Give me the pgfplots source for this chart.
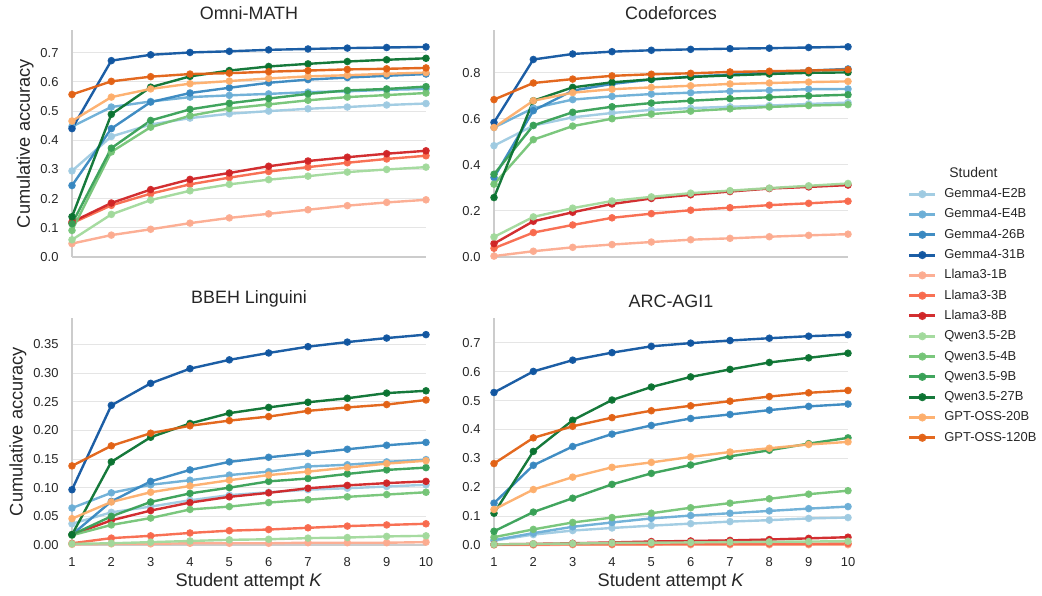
\documentclass[border=0pt]{standalone}
\usepackage{pgfplots}
\usepackage{pgfplotstable}
\pgfplotsset{compat=1.18}
\usepackage{fontspec}
\setmainfont{Liberation Sans}

\definecolor{txt}{RGB}{38,38,38}
\definecolor{spine}{RGB}{204,204,204}
\definecolor{cE2}{RGB}{158,202,225}
\definecolor{cE4}{RGB}{107,174,214}
\definecolor{c26}{RGB}{55,135,192}
\definecolor{c31}{RGB}{16,85,160}
\definecolor{cL1}{RGB}{252,171,143}
\definecolor{cL3}{RGB}{248,105,76}
\definecolor{cL8}{RGB}{208,36,38}
\definecolor{cQ2}{RGB}{161,217,155}
\definecolor{cQ4}{RGB}{116,196,118}
\definecolor{cQ9}{RGB}{55,160,85}
\definecolor{cQ27}{RGB}{10,114,48}
\definecolor{cO20}{RGB}{253,174,107}
\definecolor{cO120}{RGB}{226,97,20}

% columns: K e2 e4 g26 g31 l1 l3 l8 q2 q4 q9 q27 o20 o120
\pgfplotstableread{
K e2 e4 g26 g31 l1 l3 l8 q2 q4 q9 q27 o20 o120
1 0.295 0.447 0.245 0.440 0.046 0.116 0.120 0.059 0.091 0.114 0.138 0.466 0.557
2 0.413 0.514 0.440 0.673 0.075 0.177 0.185 0.146 0.360 0.373 0.489 0.548 0.602
3 0.454 0.533 0.531 0.693 0.095 0.217 0.231 0.195 0.445 0.468 0.582 0.576 0.618
4 0.476 0.548 0.562 0.701 0.116 0.249 0.266 0.227 0.484 0.506 0.619 0.594 0.627
5 0.491 0.554 0.580 0.705 0.134 0.272 0.288 0.249 0.509 0.527 0.639 0.603 0.630
6 0.500 0.559 0.597 0.710 0.148 0.293 0.311 0.265 0.523 0.543 0.653 0.612 0.635
7 0.508 0.565 0.608 0.713 0.162 0.308 0.329 0.277 0.537 0.559 0.662 0.619 0.639
8 0.514 0.568 0.615 0.716 0.176 0.323 0.342 0.291 0.548 0.571 0.670 0.623 0.643
9 0.521 0.573 0.621 0.718 0.187 0.336 0.354 0.300 0.555 0.576 0.676 0.628 0.645
10 0.526 0.576 0.627 0.720 0.196 0.347 0.364 0.308 0.562 0.584 0.681 0.632 0.648
}\omni

\pgfplotstableread{
K e2 e4 g26 g31 l1 l3 l8 q2 q4 q9 q27 o20 o120
1 0.483 0.562 0.345 0.584 0.004 0.038 0.058 0.087 0.316 0.359 0.258 0.562 0.683
2 0.570 0.646 0.635 0.857 0.025 0.106 0.155 0.174 0.509 0.571 0.678 0.678 0.755
3 0.606 0.683 0.722 0.881 0.042 0.139 0.194 0.212 0.568 0.628 0.736 0.713 0.772
4 0.625 0.697 0.751 0.891 0.054 0.170 0.230 0.243 0.600 0.652 0.758 0.728 0.786
5 0.638 0.707 0.770 0.897 0.065 0.188 0.254 0.261 0.620 0.668 0.771 0.736 0.793
6 0.646 0.713 0.783 0.901 0.075 0.203 0.270 0.277 0.633 0.678 0.781 0.743 0.797
7 0.652 0.719 0.791 0.904 0.081 0.214 0.284 0.288 0.643 0.687 0.788 0.751 0.803
8 0.657 0.723 0.801 0.906 0.088 0.225 0.297 0.299 0.651 0.693 0.794 0.755 0.806
9 0.664 0.728 0.809 0.909 0.094 0.233 0.304 0.309 0.657 0.699 0.799 0.759 0.809
10 0.670 0.729 0.816 0.912 0.099 0.242 0.312 0.319 0.661 0.704 0.801 0.762 0.813
}\codeforces

\pgfplotstableread{
K e2 e4 g26 g31 l1 l3 l8 q2 q4 q9 q27 o20 o120
1 0.037 0.0645 0.018 0.0965 0.001 0.003 0.018 0.002 0.017 0.018 0.018 0.046 0.138
2 0.057 0.091 0.076 0.2436 0.002 0.012 0.043 0.003 0.035 0.050 0.145 0.075 0.173
3 0.067 0.105 0.111 0.282 0.002 0.016 0.060 0.005 0.047 0.075 0.188 0.092 0.195
4 0.078 0.113 0.131 0.3076 0.003 0.021 0.074 0.007 0.062 0.090 0.212 0.103 0.208
5 0.087 0.122 0.145 0.323 0.003 0.025 0.084 0.009 0.067 0.100 0.230 0.113 0.217
6 0.092 0.128 0.153 0.335 0.003 0.027 0.091 0.010 0.074 0.111 0.240 0.122 0.224
7 0.0965 0.137 0.160 0.346 0.004 0.030 0.099 0.012 0.079 0.116 0.249 0.128 0.234
8 0.099 0.140 0.167 0.354 0.004 0.033 0.104 0.013 0.084 0.124 0.256 0.135 0.240
9 0.102 0.145 0.174 0.361 0.004 0.035 0.108 0.015 0.088 0.131 0.265 0.142 0.245
10 0.105 0.149 0.179 0.367 0.005 0.037 0.111 0.016 0.092 0.135 0.269 0.147 0.253
}\bbeh

\pgfplotstableread{
K e2 e4 g26 g31 l1 l3 l8 q2 q4 q9 q27 o20 o120
1 0.015 0.017 0.145 0.528 0.000 0.002 0.002 0.002 0.027 0.0475 0.110 0.123 0.282
2 0.036 0.041 0.276 0.601 0.000 0.002 0.004 0.004 0.054 0.114 0.324 0.192 0.371
3 0.050 0.063 0.341 0.640 0.001 0.003 0.006 0.005 0.078 0.162 0.432 0.235 0.411
4 0.059 0.078 0.384 0.666 0.001 0.003 0.009 0.007 0.095 0.210 0.502 0.269 0.441
5 0.067 0.092 0.414 0.688 0.001 0.003 0.012 0.008 0.110 0.248 0.547 0.286 0.465
6 0.074 0.102 0.438 0.699 0.001 0.004 0.014 0.009 0.129 0.277 0.582 0.305 0.482
7 0.081 0.110 0.452 0.708 0.001 0.004 0.016 0.010 0.145 0.307 0.608 0.322 0.498
8 0.086 0.118 0.467 0.716 0.001 0.004 0.019 0.011 0.160 0.328 0.632 0.335 0.514
9 0.092 0.126 0.480 0.723 0.001 0.004 0.023 0.012 0.176 0.351 0.648 0.348 0.527
10 0.095 0.133 0.488 0.728 0.001 0.005 0.027 0.013 0.188 0.371 0.664 0.357 0.535
}\arc

\pgfplotsset{
  panel/.style={
    scale only axis, width=354bp, height=227bp,
    xmin=1, xmax=10, ymin=0,
    xtick={1,2,3,4,5,6,7,8,9,10},
    axis x line*=bottom, axis y line*=left,
    axis line style={draw=spine, line width=1.25bp, -},
    ymajorgrids, grid style={draw=gray!20, line width=1bp},
    major tick length=0pt,
    /pgf/number format/assume math mode=true,
    tick label style={font=\fontsize{13}{15}\selectfont, text=txt},
    xticklabel style={yshift=-9bp},
    yticklabel style={xshift=-10bp},
    title style={font=\fontsize{18}{21}\selectfont, text=txt, yshift=1bp},
    label style={font=\fontsize{18.3}{21}\selectfont, text=txt},
    every axis plot/.append style={line width=2.4bp, mark=*, mark size=2.5bp, opacity=0.95},
    clip=false,
    legend image code/.code={\draw[mark repeat=2,mark phase=2,line width=3bp] plot coordinates {(0bp,0bp) (13bp,0bp) (26bp,0bp)};},
  },
}

\newcommand{\allseries}[1]{%
  \addplot[color=cE2] table[x=K,y=e2] {#1};
  \addplot[color=cE4] table[x=K,y=e4] {#1};
  \addplot[color=c26] table[x=K,y=g26] {#1};
  \addplot[color=c31] table[x=K,y=g31] {#1};
  \addplot[color=cL1] table[x=K,y=l1] {#1};
  \addplot[color=cL3] table[x=K,y=l3] {#1};
  \addplot[color=cL8] table[x=K,y=l8] {#1};
  \addplot[color=cQ2] table[x=K,y=q2] {#1};
  \addplot[color=cQ4] table[x=K,y=q4] {#1};
  \addplot[color=cQ9] table[x=K,y=q9] {#1};
  \addplot[color=cQ27] table[x=K,y=q27] {#1};
  \addplot[color=cO20] table[x=K,y=o20] {#1};
  \addplot[color=cO120] table[x=K,y=o120] {#1};
}

\begin{document}
\begin{tikzpicture}
\useasboundingbox (0,0) rectangle (1042bp,596bp);

% Omni-MATH
\begin{axis}[panel, at={(72bp,339bp)}, anchor=south west,
  ymax=0.778, ytick={0,0.1,0.2,0.3,0.4,0.5,0.6,0.7},
  yticklabel style={/pgf/number format/.cd, fixed, fixed zerofill, precision=1},
  xticklabels={},
  title={Omni-MATH}, ylabel={Cumulative accuracy}]
\allseries{\omni}
\end{axis}

% Codeforces
\begin{axis}[panel, at={(494bp,339bp)}, anchor=south west,
  ymax=0.985, ytick={0,0.2,0.4,0.6,0.8},
  yticklabel style={/pgf/number format/.cd, fixed, fixed zerofill, precision=1},
  xticklabels={},
  title={Codeforces},
  legend style={at={(axis description cs:1.16,-0.215)}, anchor=west,
    draw=none, fill=none, text=txt,
    font=\fontsize{13}{15}\selectfont,
    legend cell align=left,
    row sep=4.3bp,
    nodes={inner sep=1.5bp, text height=10bp, text depth=3bp},
    /tikz/every odd column/.append style={column sep=6bp}},
  legend entries={{\fontsize{14}{16}\selectfont\hspace{5bp}Student},Gemma4-E2B,Gemma4-E4B,Gemma4-26B,Gemma4-31B,Llama3-1B,Llama3-3B,Llama3-8B,Qwen3.5-2B,Qwen3.5-4B,Qwen3.5-9B,Qwen3.5-27B,GPT-OSS-20B,GPT-OSS-120B}]
\addlegendimage{empty legend}
\allseries{\codeforces}
\end{axis}

% BBEH Linguini
\begin{axis}[panel, at={(72bp,51bp)}, anchor=south west,
  ymax=0.396, ytick={0,0.05,0.1,0.15,0.2,0.25,0.3,0.35},
  yticklabel style={/pgf/number format/.cd, fixed, fixed zerofill, precision=2},
  title={BBEH Linguini}, ylabel={Cumulative accuracy},
  xlabel={Student attempt \textit{K}}]
\allseries{\bbeh}
\end{axis}

% ARC-AGI1
\begin{axis}[panel, at={(494bp,51bp)}, anchor=south west,
  ymax=0.786, ytick={0,0.1,0.2,0.3,0.4,0.5,0.6,0.7},
  yticklabel style={/pgf/number format/.cd, fixed, fixed zerofill, precision=1},
  title={ARC-AGI1},
  xlabel={Student attempt \textit{K}}]
\allseries{\arc}
\end{axis}
\end{tikzpicture}
\end{document}
